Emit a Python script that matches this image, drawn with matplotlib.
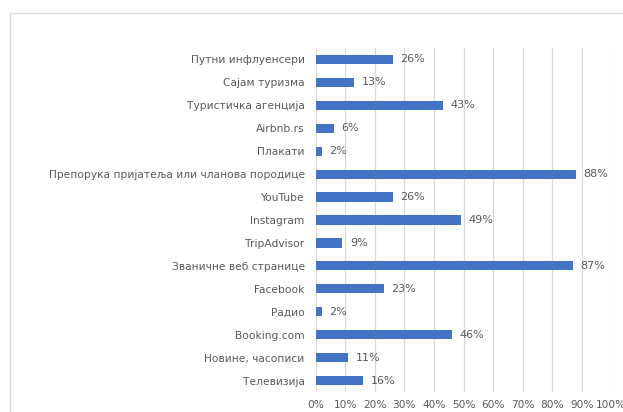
import matplotlib.pyplot as plt
from matplotlib.lines import Line2D
from matplotlib.ticker import PercentFormatter

categories = ['Путни инфлуенсери', 'Сајам туризма', 'Туристичка агенција',
              'Airbnb.rs', 'Плакати', 'Препорука пријатеља или чланова породице',
              'YouTube', 'Instagram', 'TripAdvisor', 'Званичне веб странице',
              'Facebook', 'Радио', 'Booking.com', 'Новине, часописи', 'Телевизија']
values = [26, 13, 43, 6, 2, 88, 26, 49, 9, 87, 23, 2, 46, 11, 16]

plt.rcParams['font.family'] = ['DejaVu Sans']
text_color = '#595959'

fig = plt.figure(figsize=(6.23, 4.12), dpi=100)
ax = fig.add_axes([0.507, 0.0485, 0.474, 0.835])

y = list(range(len(categories)))
ax.barh(y, values, height=0.4, color='#4472C4', zorder=3)
for yi, v in zip(y, values):
    ax.text(v + 2.5, yi, f'{v}%', va='center', ha='left', fontsize=8, color=text_color)

ax.set_xlim(0, 100)
ax.set_ylim(len(categories) - 0.5, -0.5)
ax.set_yticks(y)
ax.set_yticklabels(categories, fontsize=7.7, color=text_color)
ax.set_xticks(range(0, 101, 10))
ax.xaxis.set_major_formatter(PercentFormatter(decimals=0))
ax.tick_params(axis='x', labelsize=7.6, labelcolor=text_color, length=0, pad=6)
ax.tick_params(axis='y', length=0, pad=8)
ax.grid(axis='x', color='#D9D9D9', linewidth=0.9, zorder=0)
for s in ax.spines.values():
    s.set_visible(False)

# outer chart frame
fig.add_artist(Line2D([0.016, 0.016], [0.0, 0.968], color='#D9D9D9', linewidth=1.0))
fig.add_artist(Line2D([0.016, 1.0], [0.968, 0.968], color='#D9D9D9', linewidth=1.0))

fig.savefig('out.png', dpi=100)
